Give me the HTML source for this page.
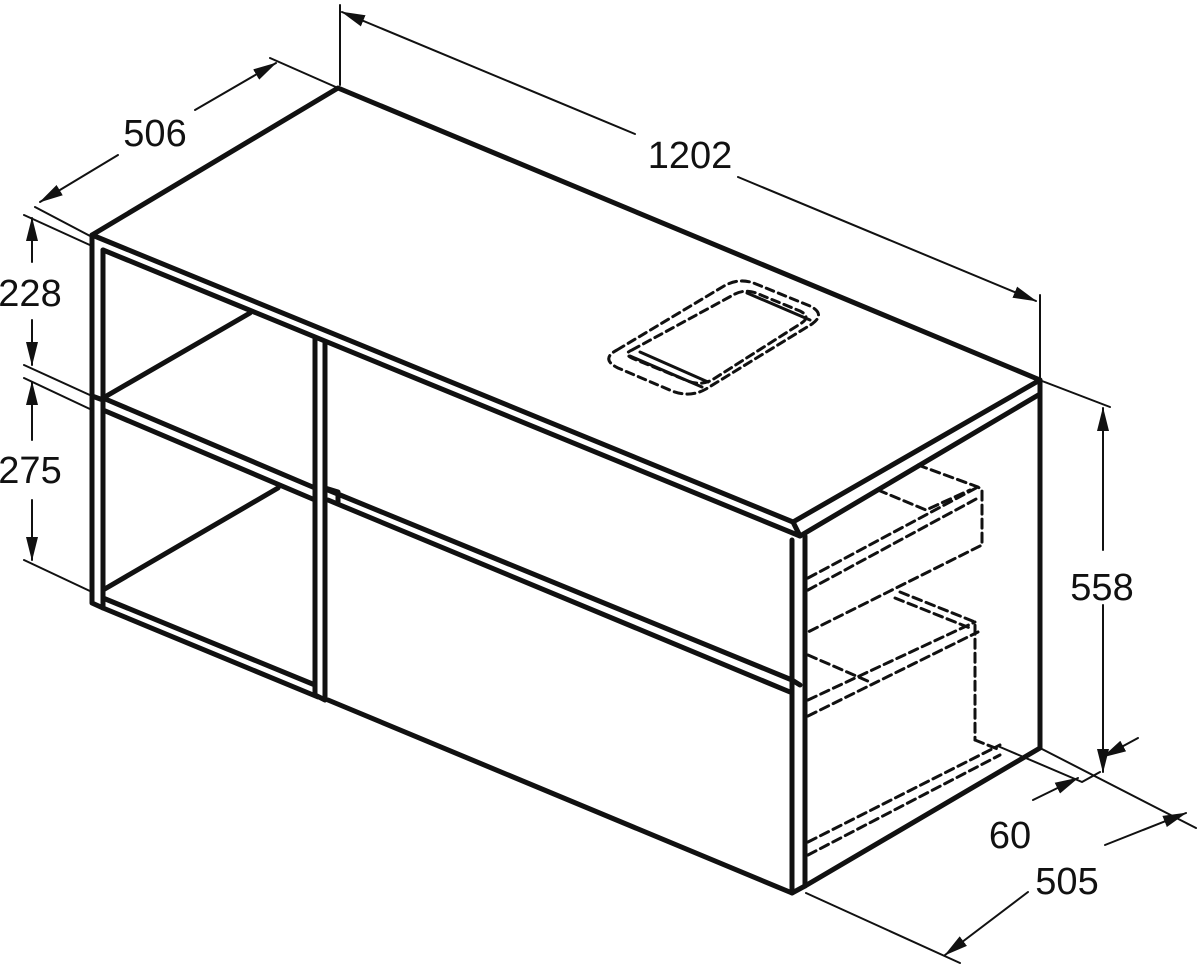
<!DOCTYPE html>
<html><head><style>html,body{margin:0;padding:0;background:#fff}svg{display:block}
text{font-family:"Liberation Sans",Arial,sans-serif;font-size:38px;fill:#111}</style></head>
<body>
<svg width="1200" height="964" viewBox="0 0 1200 964" xmlns="http://www.w3.org/2000/svg">
<defs>
<marker id="a" markerWidth="24" markerHeight="12" refX="23" refY="6" orient="auto" markerUnits="userSpaceOnUse"><path d="M0,0 L24,6 L0,12 z" fill="#111"/></marker>
</defs>
<g stroke="#111" fill="none" stroke-linecap="round" stroke-linejoin="round">
<g stroke-width="5">
<path d="M92,235 L338,88 L1040,380 L793,522 Z"/>
<path d="M103,250 L800,536 L1040,394 L1040,380"/>
<path d="M793,522 L800,536"/>
<!-- left frame -->
<path d="M92,235 L92,603 L103,608 L103,250"/>
<path d="M103,398 L315,488 M103,410 L315,500"/>
<path d="M92,396 L103,400"/>
<path d="M103,598 L315,685 M103,608 L318,697"/>
<path d="M103,398 L250,313 M103,590 L278,488"/>
<path d="M315,338 L315,695 L325,700 L325,343"/>
<!-- drawers -->
<path d="M328,490 L792,680 L800,685"/>
<path d="M328,500 L790,692"/>
<path d="M325,488 L338,492 L338,502"/>
<path d="M328,700 L792,893 L805,886 L805,536"/>
<path d="M792,540 L792,893"/>
<!-- side -->
<path d="M805,886 L1040,748 L1040,390"/>
</g>
<g stroke-width="3" stroke-dasharray="9,5">
<path d="M808,578 L978,487 M808,590 L978,498"/>
<path d="M918,465 L978,487 L982,490 L982,545 L808,632"/>
<path d="M878,490 L926,510 L970,490"/>
<path d="M900,592 L975,622 L975,740 M895,598 L970,628"/>
<path d="M808,700 L975,622 M808,716 L978,632"/>
<path d="M808,655 L870,682"/>
<path d="M808,842 L1000,745 M808,855 L1000,755 M975,740 L1000,750"/>
</g>
<!-- sink -->
<g stroke-width="3" stroke-dasharray="8,5">
<path d="M617,350 L724,286 Q740,277 756,284 L810,306 Q826,314 812,324 L706,389 Q690,398 672,391 L618,368 Q600,359 617,350 Z"/>
<path d="M632,350 L735,294 Q745,289 756,293 L800,311 Q812,317 800,324 L712,380 Q700,386 688,381 L634,359 Q622,354 632,350 Z"/>
</g>
<g stroke-width="3">
<path d="M630,356 L702,387 M640,352 L708,382 M747,293 L810,320"/>
</g>
<!-- dimension lines -->
<g stroke-width="2">
<path d="M340,5 L340,85 M1040,295 L1040,378"/>
<path d="M635,134 L342,12" marker-end="url(#a)"/>
<path d="M738,177 L1036,301" marker-end="url(#a)"/>
<path d="M270,58 L338,88 M35,207 L92,237"/>
<path d="M195,110 L276,63" marker-end="url(#a)"/>
<path d="M118,155 L40,202" marker-end="url(#a)"/>
<path d="M24,215 L92,246 M24,365 L92,396 M24,378 L92,410 M24,560 L92,592"/>
<path d="M32,262 L32,218" marker-end="url(#a)"/>
<path d="M32,320 L32,365" marker-end="url(#a)"/>
<path d="M32,440 L32,382" marker-end="url(#a)"/>
<path d="M32,500 L32,560" marker-end="url(#a)"/>
<path d="M1042,381 L1110,407 M1040,748 L1196,828"/>
<path d="M1103,550 L1103,408" marker-end="url(#a)"/>
<path d="M1103,605 L1103,772" marker-end="url(#a)"/>
<path d="M1000,747 L1082,782 M1082,782 L1100,772"/>
<path d="M1138,738 L1103,757" marker-end="url(#a)"/>
<path d="M1033,800 L1078,778" marker-end="url(#a)"/>
<path d="M806,893 L960,963"/>
<path d="M1105,845 L1186,813" marker-end="url(#a)"/>
<path d="M1028,892 L945,955" marker-end="url(#a)"/>
</g>
</g>
<text x="155" y="146" text-anchor="middle">506</text>
<text x="690" y="168" text-anchor="middle">1202</text>
<text x="30" y="306" text-anchor="middle">228</text>
<text x="30" y="483" text-anchor="middle">275</text>
<text x="1102" y="600" text-anchor="middle">558</text>
<text x="1010" y="848" text-anchor="middle">60</text>
<text x="1067" y="894" text-anchor="middle">505</text>
</svg>
</body></html>
